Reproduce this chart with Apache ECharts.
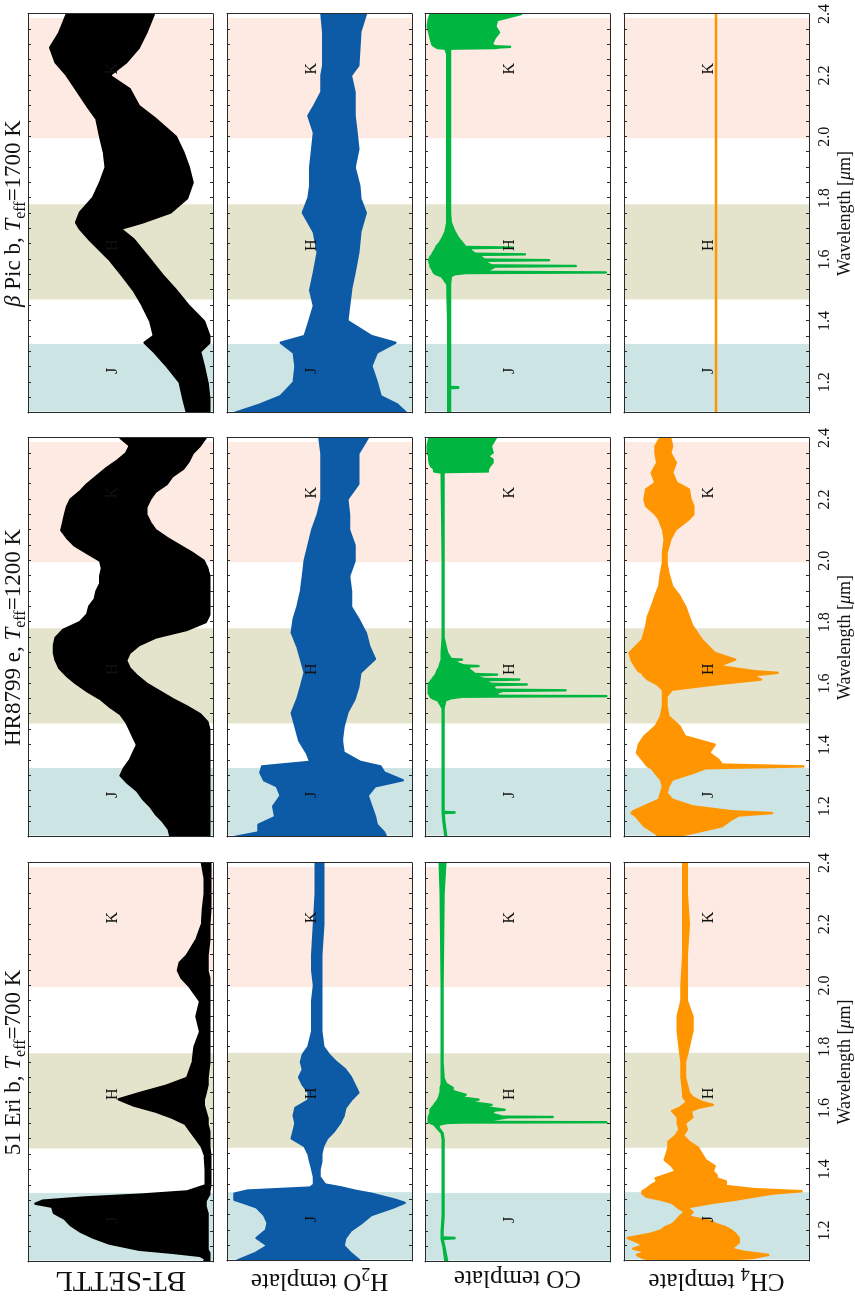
<!DOCTYPE html>
<html><head><meta charset="utf-8">
<script src="https://cdn.jsdelivr.net/npm/echarts@6/dist/echarts.min.js"></script>
<style>
html,body{margin:0;padding:0;width:855px;height:1298px;overflow:hidden;background:#fff;}
#chart{position:absolute;left:0;top:0;width:1298px;height:855px;transform-origin:0 0;transform:translate(0px,1298px) rotate(-90deg);}
</style></head><body><div id="chart"></div>
<script>
// ---------------- data (flux in % of panel height) ----------------
const GROUP_TITLES = ['51 Eri b, {it|T}{sub|eff}=700 K', 'HR8799 e, {it|T}{sub|eff}=1200 K', '{it|β} Pic b, {it|T}{sub|eff}=1700 K'];
const ROW_NAMES = ['BT-SETTL', 'H{sub|2}O template', 'CO template', 'CH{sub|4} template'];
const BAND_NAMES = ['J', 'H', 'K'];
const BAND_START = [1.105, 1.47, 1.995];
const BAND_END = [1.325, 1.78, 2.387];
const BAND_LABEL_WL = [1.237, 1.647, 2.222];
const BAND_LABEL_FLUX = 54;
const TICK_VALUES = [1.2, 1.4, 1.6, 1.8, 2.0, 2.2, 2.4];
const TICK_LABELS = ['1.2', '1.4', '1.6', '1.8', '2.0', '2.2', '2.4'];
const WL_MIN = 1.1, WL_MAX = 2.4, WL_TICK = 0.05;

// 51 Eri b
const ERI_SETTL_WL = [1.10,1.11,1.12,1.13,1.14,1.16,1.18,1.20,1.22,1.24,1.26,1.28,1.29,1.30,1.31,1.32,1.33,1.35,1.40,1.45,1.475,1.50,1.525,1.55,1.57,1.59,1.61,1.63,1.65,1.675,1.70,1.75,1.80,1.85,1.90,1.95,1.975,2.00,2.025,2.05,2.075,2.10,2.15,2.20,2.25,2.30,2.35,2.40];
const ERI_SETTL_HI = [5,4,7,22,40,56,65,72,77,80,86,87,96,92,70,38,14,4,4,4.5,6,9,12,15,22,31,43,51,40,25,14,11,10,7,9,7,10,13,17,19,18,14,9,6,5.5,4.5,4.5,6];
const ERI_SETTL_LO = [2,2,2,2,3,3,3,3,3,3,3,4,4,4,3,2,2,1.5,1.5,1.5,2,2,2,3,3,4,5,5,4,3,3,2,2,2,2,2,2,2,2,3,3,3,2,2,1.5,1.5,1.5,1.5];

const ERI_H2O_WL = [1.10,1.125,1.15,1.175,1.20,1.225,1.25,1.275,1.29,1.30,1.32,1.33,1.34,1.35,1.375,1.40,1.425,1.45,1.475,1.50,1.525,1.55,1.575,1.60,1.625,1.65,1.675,1.70,1.725,1.75,1.775,1.80,1.85,1.90,1.95,2.00,2.05,2.10,2.20,2.30,2.40];
const ERI_H2O_HI = [95,85,78,84,79,78,80,84,91,96,96,89,55,53,53,54,55,56,58,65,64,63,64,63,56,56,59,61,59,60,59,56,54,54,54,53,54,54,53,52,52];
const ERI_H2O_LO = [28,33,37,36,33,27,22,10,4,9,22,31,38,47,50,50,49,49,48,46,42,39,37,36,33,29,31,33,36,41,45,48,49,49,49,49,49,49,48,48,48];

const ERI_CO_WL = [1.10,1.15,1.175,1.1775,1.1785,1.18,1.20,1.25,1.30,1.40,1.50,1.52,1.54,1.548,1.553,1.5545,1.5555,1.5565,1.565,1.5715,1.5725,1.5735,1.585,1.594,1.596,1.605,1.610,1.612,1.62,1.627,1.629,1.635,1.643,1.645,1.655,1.665,1.667,1.68,1.70,1.75,2.00,2.30,2.40];
const ERI_CO_HI = [89,90,91,91,91,91,91,90.5,90.5,90.5,90.5,91,94,95,97,98,98,98,98,98,98,98,97,97,97,96,95,95,94,93,93,92.5,92,92,91.5,91.5,91.5,91,91,91,91,91.5,92];
const ERI_CO_LO = [88,89.5,90.5,84,84,90.5,90.5,90,90,90,90,90.5,93,92,88,80,2,72,62,55,31,58,65,62,57,68,66,64,74,73,71,79,79,78,84,86,85,88.5,90,90.5,90.5,90,89];

const ERI_CH4_WL = [1.10,1.11,1.12,1.13,1.14,1.15,1.16,1.175,1.19,1.20,1.21,1.22,1.23,1.245,1.26,1.275,1.29,1.30,1.31,1.32,1.328,1.335,1.345,1.36,1.37,1.38,1.393,1.41,1.43,1.45,1.47,1.49,1.51,1.53,1.55,1.57,1.59,1.60,1.61,1.62,1.635,1.65,1.70,1.75,1.80,1.85,1.90,1.95,2.00,2.10,2.20,2.30,2.40];
const ERI_CH4_HI = [82,90,93,88,95,90,92,98,85,80,78,74,72,70,67,71,74,80,88,90,90,88,86,82,83,78,72,74,78,77,76,76,72,70,71,71,74,70,68,66,68,68,69,69,70,71,71,69,69,68,68,68,68];
const ERI_CH4_LO = [60,30,22,35,42,40,38,38,40,42,45,50,53,65,63,66,52,40,30,20,4,30,45,45,50,50,52,51,56,58,60,65,68,66,67,63,64,60,52,58,63,65,67,67,65,63,63,66,66,66,65,66,66];

// HR8799 e
const HR_SETTL_WL = [1.10,1.125,1.15,1.175,1.20,1.225,1.25,1.275,1.30,1.325,1.35,1.375,1.40,1.425,1.45,1.475,1.50,1.525,1.55,1.575,1.60,1.625,1.65,1.675,1.70,1.725,1.75,1.775,1.80,1.825,1.85,1.875,1.90,1.925,1.95,1.975,2.00,2.025,2.05,2.075,2.10,2.125,2.15,2.175,2.20,2.225,2.25,2.275,2.30,2.325,2.35,2.375,2.40];
const HR_SETTL_HI = [23,24,27,31,34,38,41,46,50,48,45,43,41,43,45,47,50,56,61,68,74,79,83,85,86,86,85,81,72,68,67,64,63,61,61,60,61,68,75,79,82,81,80,79,77,72,68,63,58,52,47,45,50];
const HR_SETTL_LO = [2,2,2,2,2,2,2,2,2,2,2,2,2,2,2,3,7,14,22,29,36,41,45,47,45,40,31,14,4,2,2,2,2,2,2,3,5,11,18,25,31,34,36,36,34,31,25,22,16,13,11,7,4];

const HR_H2O_WL = [1.10,1.115,1.14,1.165,1.20,1.235,1.265,1.285,1.31,1.33,1.345,1.375,1.415,1.46,1.505,1.55,1.59,1.635,1.68,1.72,1.765,1.81,1.85,1.90,1.95,2.00,2.05,2.10,2.15,2.20,2.25,2.30,2.35,2.40];
const HR_H2O_HI = [96,83,83,74,75,71,73,80,82,81,55,57,61,63,65,62,60,58,60,62,65,64,62,60,59,58,56,54,51,49,49,49,49,50];
const HR_H2O_LO = [14,15,19,20,22,24,20,5,15,17,28,37,38,37,35,31,29,28,20,23,25,29,33,33,34,31,31,34,34,35,29,29,29,24];

const HR_CO_WL = [1.10,1.15,1.178,1.1795,1.1805,1.182,1.25,1.40,1.52,1.545,1.552,1.557,1.558,1.559,1.560,1.568,1.576,1.578,1.580,1.588,1.595,1.597,1.599,1.606,1.611,1.613,1.615,1.622,1.627,1.629,1.631,1.645,1.655,1.657,1.659,1.668,1.676,1.678,1.680,1.70,1.75,2.00,2.27,2.287,2.289,2.291,2.298,2.309,2.32,2.33,2.341,2.352,2.374,2.40];
const HR_CO_HI = [89,90,90.5,90.5,90.5,90.5,90.5,90.5,90.5,93,96,97,97,97,97,98,98,98,98,98,98,98,98,97,96.5,96,96,95,94.5,94,94,93,92,92,92,91.5,91,91,91,91,90.5,90.5,91,91,93,95,95,96.8,97.5,97.7,97.7,98.6,98.6,97.7];
const HR_CO_LO = [88.5,89.5,90,84,84,90,90,90,90,89,86,80,50,2,60,62,58,24,62,63,62,45,64,67,66,49,68,72,71,61,73,76,77,71,79,83,83,80,86,88,90,90,90,90,89,66,66,65,63.5,63.5,66,63.5,64.4,61.7];

const HR_CH4_WL = [1.10,1.113,1.135,1.157,1.17,1.178,1.184,1.20,1.222,1.243,1.265,1.287,1.308,1.324,1.33,1.336,1.352,1.374,1.401,1.428,1.461,1.493,1.526,1.559,1.58,1.597,1.613,1.626,1.635,1.64,1.657,1.678,1.70,1.743,1.787,1.82,1.852,1.885,1.917,1.96,1.993,2.026,2.07,2.102,2.135,2.151,2.178,2.20,2.233,2.254,2.287,2.32,2.352,2.374,2.40];
const HR_CH4_HI = [81,83,89,92,94,96,95,89,81,80,79,80,83,85,87,88,90,93,92,89,83,80,79,79,79,82,87,89.5,90,92,94,96,97,90,88,87,85,83,81,80,79,79,78,79,81,83,88,89,88,83,85,82,83,83,80.5];
const HR_CH4_LO = [74,63,47,42,38,20,42,63,74,77,76,74,63,56,3,47,49,54,51,67,70,76,77,77,74,51,26,31,17,29,49,40,51,58,63,65,67,70,74,76,77,77,75,72,65,62.5,62.5,64,65,71.5,74,72,75,74,75];

// beta Pic b
const BP_SETTL_WL = [1.10,1.145,1.20,1.253,1.30,1.329,1.351,1.40,1.449,1.50,1.547,1.60,1.666,1.70,1.721,1.753,1.80,1.851,1.90,1.949,2.00,2.058,2.10,2.155,2.20,2.242,2.291,2.34,2.40];
const BP_SETTL_HI = [14,16,18,25,32,37,32,34,38,43,49,56,67,72,74,72,65,61,58,59,61,63,68,74,79,85,88,83,79];
const BP_SETTL_LO = [2,2,3,5,7,2,2,5,13,20,27,34,43,50,38,23,14,11,13,16,20,31,40,45,56,47,40,36,32];

const BP_H2O_WL = [1.10,1.128,1.155,1.20,1.253,1.297,1.329,1.351,1.40,1.449,1.50,1.558,1.623,1.688,1.753,1.80,1.84,1.90,1.96,2.014,2.068,2.10,2.145,2.20,2.232,2.34,2.40];
const BP_H2O_HI = [96,82,71,64,63,64,71,58,55.5,53,55,53,51,53,59,56,55,55,54,53,56,53,49,49,48,48,49];
const BP_H2O_LO = [3,8,17,19,22,19,9,22,35,34,33,31,29,28,25,28,28.5,31,29,30,31,31,31,33,29,28,25];

const BP_CO_WL = [1.10,1.15,1.181,1.182,1.184,1.185,1.25,1.40,1.52,1.545,1.552,1.556,1.558,1.560,1.568,1.577,1.579,1.581,1.59,1.596,1.598,1.60,1.61,1.615,1.617,1.619,1.628,1.637,1.639,1.641,1.655,1.67,1.69,1.72,1.75,2.00,2.27,2.287,2.289,2.291,2.293,2.295,2.30,2.32,2.34,2.36,2.38,2.40];
const BP_CO_HI = [87.5,87.5,87.5,87.5,87.5,87.5,87.5,87.5,88,91,94,95,95,95.5,96,97,97,97,97.5,97.7,97.7,97.7,97,96,96,96,95,94,94,94,92,90.5,89,88,88,88,88,89,93,94,94,95,96,97,97.7,98.5,98,97];
const BP_CO_LO = [86.5,86.5,86.5,82,82,86.5,86.5,86.5,86.5,86,84,78,2.3,70,65,62,18.5,64,67,66,33,68,70,72,46,73,75,77,53,78,80,82,84,86,86.5,86.5,86.5,86.5,62,60,54,62,64,62.5,60,62,61,48];

const BP_CH4_WL = [1.10, 2.40];
const BP_CH4_HI = [50.3, 50.3];
const BP_CH4_LO = [50.3, 50.3];

const SPECTRA = [
  [{wl: ERI_SETTL_WL, hi: ERI_SETTL_HI, lo: ERI_SETTL_LO}, {wl: ERI_H2O_WL, hi: ERI_H2O_HI, lo: ERI_H2O_LO},
   {wl: ERI_CO_WL, hi: ERI_CO_HI, lo: ERI_CO_LO}, {wl: ERI_CH4_WL, hi: ERI_CH4_HI, lo: ERI_CH4_LO}],
  [{wl: HR_SETTL_WL, hi: HR_SETTL_HI, lo: HR_SETTL_LO}, {wl: HR_H2O_WL, hi: HR_H2O_HI, lo: HR_H2O_LO},
   {wl: HR_CO_WL, hi: HR_CO_HI, lo: HR_CO_LO}, {wl: HR_CH4_WL, hi: HR_CH4_HI, lo: HR_CH4_LO}],
  [{wl: BP_SETTL_WL, hi: BP_SETTL_HI, lo: BP_SETTL_LO}, {wl: BP_H2O_WL, hi: BP_H2O_HI, lo: BP_H2O_LO},
   {wl: BP_CO_WL, hi: BP_CO_HI, lo: BP_CO_LO}, {wl: BP_CH4_WL, hi: BP_CH4_HI, lo: BP_CH4_LO}]
];

// ---------------- style / layout ----------------
const FONT = '"Liberation Serif", "DejaVu Serif", serif';
const TEXT_COLOR = '#111';
const FRAME = '#2a2a2a';
const ROW_COLORS = ['#000000', '#0d5ba6', '#00b640', '#ff9500'];
const BAND_COLORS = ['#cce5e4', '#e4e3cc', '#fdebe3'];
const GRID_LEFT = [36, 461, 885];
const GRID_TOP = [28, 227, 425, 624];
const GRID_W = 399, GRID_H = 185;
const ROW_NAME_SIZE = [29, 25, 25, 25];
const ROW_NAME_GAP = [3, 3, 3, 3];
const TITLE_SIZE = 23;
const TICK_SIZE = 16;
const AXIS_NAME_SIZE = 18;
const BAND_LABEL_SIZE = 16;

function richFor(size) {
  return {
    it: {fontStyle: 'italic', fontFamily: FONT, fontSize: size, color: TEXT_COLOR, lineHeight: size},
    sub: {fontFamily: FONT, fontSize: Math.round(size * 0.7), color: TEXT_COLOR, verticalAlign: 'bottom', lineHeight: Math.round(size * 1.3)}
  };
}

function tickFormatter(v) {
  const i = TICK_VALUES.findIndex(t => Math.abs(t - v) < 1e-6);
  return i >= 0 ? TICK_LABELS[i] : '';
}

const grid = [], xAxis = [], yAxis = [], series = [];
for (let g = 0; g < 3; g++) {
  for (let r = 0; r < 4; r++) {
    const idx = g * 4 + r;
    grid.push({left: GRID_LEFT[g], top: GRID_TOP[r], width: GRID_W, height: GRID_H});
    ['bottom', 'top'].forEach(pos => {
      const isBottom = pos === 'bottom';
      const lastRow = r === 3 && isBottom;
      xAxis.push({
        type: 'value', gridIndex: idx, position: pos, min: WL_MIN, max: WL_MAX, interval: WL_TICK, z: 10,
        axisLine: {show: true, onZero: false, lineStyle: {color: FRAME, width: 1}},
        axisTick: {show: true, inside: true, length: 3, lineStyle: {color: FRAME, width: 1}},
        axisLabel: {show: lastRow, margin: 8, fontFamily: FONT, fontSize: TICK_SIZE, color: TEXT_COLOR, formatter: tickFormatter},
        splitLine: {show: false},
        name: lastRow ? 'Wavelength [{it|μ}m]' : '',
        nameLocation: 'middle', nameGap: 27,
        nameTextStyle: {fontFamily: FONT, fontSize: AXIS_NAME_SIZE, color: TEXT_COLOR, rich: richFor(AXIS_NAME_SIZE)}
      });
    });
    ['left', 'right'].forEach(pos => {
      const withName = pos === 'left' && g === 0;
      yAxis.push({
        type: 'value', gridIndex: idx, position: pos, min: 0, max: 100, z: 10,
        axisLine: {show: true, onZero: false, lineStyle: {color: FRAME, width: 1}},
        axisTick: {show: false}, axisLabel: {show: false}, splitLine: {show: false},
        name: withName ? ROW_NAMES[r] : '',
        nameLocation: 'middle', nameRotate: 90, nameGap: ROW_NAME_GAP[r],
        nameTextStyle: {fontFamily: FONT, fontSize: ROW_NAME_SIZE[r], color: TEXT_COLOR, lineHeight: ROW_NAME_SIZE[r], rich: richFor(ROW_NAME_SIZE[r])}
      });
    });
    const xi = idx * 2, yi = idx * 2;
    // photometric bands
    series.push({
      type: 'custom', xAxisIndex: xi, yAxisIndex: yi, z: 1, silent: true, clip: true,
      data: BAND_NAMES.map((n, i) => [BAND_START[i], BAND_END[i]]),
      renderItem: (params, api) => {
        const i = params.dataIndex;
        const p0 = api.coord([BAND_START[i], 100]);
        const p1 = api.coord([BAND_END[i], 0]);
        return {type: 'rect', shape: {x: p0[0], y: p0[1], width: p1[0] - p0[0], height: p1[1] - p0[1]},
                style: {fill: BAND_COLORS[i]}};
      }
    });
    // spectrum envelope
    const sp = SPECTRA[g][r];
    const col = ROW_COLORS[r];
    series.push({
      type: 'custom', xAxisIndex: xi, yAxisIndex: yi, z: 2, silent: true, clip: true,
      data: [[sp.wl[0], sp.lo[0]]],
      renderItem: (params, api) => {
        const pts = [];
        for (let i = 0; i < sp.wl.length; i++) pts.push(api.coord([sp.wl[i], sp.hi[i]]));
        for (let i = sp.wl.length - 1; i >= 0; i--) pts.push(api.coord([sp.wl[i], sp.lo[i]]));
        return {type: 'polygon', shape: {points: pts},
                style: {fill: col, stroke: col, lineWidth: 2.4, lineJoin: 'round'}};
      }
    });
    // band letters
    series.push({
      type: 'custom', xAxisIndex: xi, yAxisIndex: yi, z: 3, silent: true,
      data: BAND_NAMES.map((n, i) => [BAND_LABEL_WL[i], BAND_LABEL_FLUX]),
      renderItem: (params, api) => {
        const i = params.dataIndex;
        const p = api.coord([BAND_LABEL_WL[i], BAND_LABEL_FLUX]);
        return {type: 'text', x: p[0], y: p[1],
                style: {text: BAND_NAMES[i], fill: TEXT_COLOR, font: BAND_LABEL_SIZE + 'px ' + FONT,
                        align: 'center', verticalAlign: 'middle', textAlign: 'center', textVerticalAlign: 'middle'}};
      }
    });
  }
}

const graphic = GROUP_TITLES.map((t, g) => ({
  type: 'text', x: GRID_LEFT[g] + GRID_W / 2, y: 14, z: 20,
  style: {text: t, fill: TEXT_COLOR, font: TITLE_SIZE + 'px ' + FONT, fontFamily: FONT, fontSize: TITLE_SIZE,
          align: 'center', verticalAlign: 'middle', textAlign: 'center', textVerticalAlign: 'middle',
          rich: richFor(TITLE_SIZE)}
}));

const chart = echarts.init(document.getElementById('chart'), null, {renderer: 'canvas'});
chart.setOption({animation: false, backgroundColor: '#fff', grid, xAxis, yAxis, series, graphic});
</script></body></html>
